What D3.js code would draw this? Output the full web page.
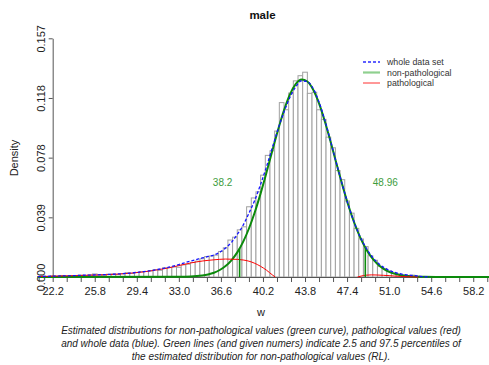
<!DOCTYPE html>
<html><head><meta charset="utf-8">
<script src="https://cdn.jsdelivr.net/npm/d3@7"></script>
<style>
body{margin:0;background:#fff;}
svg{display:block;font-family:"Liberation Sans",Arial,sans-serif;}
</style></head>
<body><svg id="c" width="489" height="365"></svg>
<script>
// ---------- data ----------
const title = "male";
const xLabel = "w";
const yLabel = "Density";
const binWidth = 0.4;
const binLeft = [21.2,21.6,22.0,22.4,22.8,23.2,23.6,24.0,24.4,24.8,
  25.2,25.6,26.0,26.4,26.8,27.2,27.6,28.0,28.4,28.8,
  29.2,29.6,30.0,30.4,30.8,31.2,31.6,32.0,32.4,32.8,
  33.2,33.6,34.0,34.4,34.8,35.2,35.6,36.0,36.4,36.8,
  37.2,37.6,38.0,38.4,38.8,39.2,39.6,40.0,40.4,40.8,
  41.2,41.6,42.0,42.4,42.8,43.2,43.6,44.0,44.4,44.8,
  45.2,45.6,46.0,46.4,46.8,47.2,47.6,48.0,48.4,48.8,
  49.2,49.6,50.0,50.4,50.8,51.2,51.6,52.0,52.4,52.8,
  53.2,53.6];
const binDensity = [0.0005,0.0003,0.0008,0.0005,0.0010,0.0006,0.0008,0.0010,0.0012,0.0008,
  0.0014,0.0020,0.0016,0.0012,0.0018,0.0020,0.0016,0.0022,0.0028,0.0024,
  0.0030,0.0034,0.0036,0.0040,0.0048,0.0044,0.0060,0.0062,0.0066,0.0064,
  0.0080,0.0084,0.0096,0.0104,0.0120,0.0134,0.0138,0.0144,0.0168,0.0192,
  0.0243,0.0262,0.0310,0.0330,0.0462,0.0520,0.0560,0.0670,0.0800,0.0830,
  0.0960,0.1147,0.1100,0.1210,0.1290,0.1324,0.1347,0.1208,0.1215,0.1100,
  0.1037,0.0920,0.0850,0.0700,0.0640,0.0500,0.0420,0.0320,0.0250,0.0200,
  0.0140,0.0110,0.0070,0.0056,0.0040,0.0026,0.0020,0.0014,0.0010,0.0012,
  0.0006,0.0003];

const greenX = [20.5,33,34,35,35.5,36,36.5,37,37.5,38,38.5,39,39.5,40,40.5,41,41.5,42,42.5,43,43.5,44,44.5,45,45.5,46,46.5,47,47.5,48,48.5,49,49.5,50,50.5,51,51.5,52,53,54,55,59.6];
const greenY = [0,0.0001,0.0003,0.0010,0.0017,0.0028,0.0046,0.0072,0.0110,0.0162,0.0231,0.0319,0.0426,0.0550,0.0687,0.0830,0.0970,0.1097,0.1200,0.1269,0.1299,0.1286,0.1232,0.1142,0.1023,0.0887,0.0744,0.0604,0.0474,0.0360,0.0264,0.0188,0.0129,0.0086,0.0055,0.0034,0.0021,0.0012,0.0004,0.0001,0,0];

const redX = [20.5,21,22,23,24,25,26,27,28,29,30,31,32,33,34,35,36,37,38,38.5,39,39.5,40,40.5,41,41.25,44,48.3,48.6,49,49.5,50,50.5,51,51.5,52,52.5,53,53.5];
const redY = [0.0003,0.0003,0.0005,0.0007,0.0009,0.0011,0.0013,0.0016,0.0020,0.0026,0.0034,0.0045,0.0058,0.0075,0.0092,0.0105,0.0113,0.0118,0.0116,0.0112,0.0104,0.0090,0.0070,0.0045,0.0014,0,null,0,0.0006,0.0012,0.0014,0.0013,0.0011,0.0009,0.0006,0.0004,0.0002,0.0001,0];

const blueX = [20.5,21,22,23,24,25,26,27,28,29,30,31,32,33,34,35,35.5,36,36.5,37,37.5,38,38.5,39,39.5,40,40.5,41,41.5,42,42.5,43,43.5,44,44.5,45,45.5,46,46.5,47,47.5,48,48.5,49,49.5,50,50.5,51,51.5,52,52.5,53,53.5,54,54.5];
const blueY = [0.0003,0.0003,0.0005,0.0007,0.0009,0.0012,0.0014,0.0017,0.0021,0.0027,0.0036,0.0047,0.0062,0.0082,0.0105,0.0125,0.0135,0.0145,0.0163,0.0190,0.0228,0.0280,0.0340,0.0420,0.0505,0.0610,0.0725,0.0850,0.0975,0.1085,0.1180,0.1250,0.1290,0.1285,0.1240,0.1150,0.1030,0.0890,0.0745,0.0605,0.0475,0.0362,0.0268,0.0195,0.0138,0.0095,0.0065,0.0044,0.0030,0.0020,0.0014,0.0010,0.0006,0.0002,0];

const refLimits = [38.2, 48.96];
const refLimitDensity = [0.0188, 0.0190];
const refLimitLabels = ["38.2", "48.96"];

const xTickValues = [21.0,22.2,23.4,24.6,25.8,27.0,28.2,29.4,30.6,31.8,33.0,34.2,35.4,36.6,37.8,39.0,40.2,41.4,42.6,43.8,45.0,46.2,47.4,48.6,49.8,51.0,52.2,53.4,54.6,55.8,57.0,58.2,59.4];
const xTickLabels = {"22.2":"22.2","25.8":"25.8","29.4":"29.4","33.0":"33.0","36.6":"36.6","40.2":"40.2","43.8":"43.8","47.4":"47.4","51.0":"51.0","54.6":"54.6","58.2":"58.2"};
const yTickValues = [0, 0.03925, 0.0785, 0.11775, 0.157];
const yTickLabels = ["0.000","0.039","0.078","0.118","0.157"];

const legendLabels = ["whole data set","non-pathological","pathological"];
const captionLines = [
  "Estimated distributions for non-pathological values (green curve), pathological values (red)",
  "and whole data (blue). Green lines (and given numers) indicate 2.5 and 97.5 percentiles of",
  "the estimated distribution for non-pathological values (RL)."
];

// ---------- drawing ----------
const svg = d3.select("#c");
const x = d3.scaleLinear().domain([20.9, 59.6]).range([37.5, 489.6]);
const y = d3.scaleLinear().domain([0, 0.157]).range([277, 38.3]);
const GREEN = "#0b8a0b";

svg.append("defs").append("clipPath").attr("id","clip")
  .append("rect").attr("x",x(20.9)).attr("y",0).attr("width",489-x(20.9)).attr("height",y(0)+2);

// histogram
svg.append("g").selectAll("rect").data(binLeft).join("rect")
  .attr("x", d => x(d))
  .attr("width", d => x(d + binWidth) - x(d))
  .attr("y", (d,i) => y(binDensity[i]))
  .attr("height", (d,i) => y(0) - y(binDensity[i]))
  .attr("fill","#fff").attr("stroke","#a0a0a0").attr("stroke-width",1);

// axes
const xAxis = d3.axisBottom(x).tickValues(xTickValues)
  .tickFormat(d => xTickLabels[d.toFixed(1)] || "")
  .tickSize(5).tickSizeOuter(0);
const gx = svg.append("g").attr("transform",`translate(0,${y(0)})`).call(xAxis);
gx.select(".domain").attr("d", `M${x(21.0)},0.5H${x(59.4)}`).attr("stroke","#555");
gx.selectAll(".tick line").attr("stroke","#555");
gx.selectAll(".tick text").attr("font-size","11px").attr("fill","#222").attr("dy",null).attr("y",18);

const yAxis = d3.axisLeft(y).tickValues(yTickValues)
  .tickFormat((d,i) => yTickLabels[i]).tickSize(4).tickSizeOuter(0);
const gy = svg.append("g").attr("transform",`translate(${x(22.2)},0)`).call(yAxis);
gy.select(".domain").attr("stroke","#555");
gy.selectAll(".tick line").attr("stroke","#555");
gy.selectAll(".tick text").attr("font-size","11px").attr("fill","#222")
  .attr("x",null).attr("dy",null)
  .attr("text-anchor","middle")
  .attr("transform","translate(-8,0) rotate(-90)");

// curves
const lineGen = (xs, ys) => d3.line()
  .defined((d,i) => ys[i] !== null)
  .x((d,i) => x(xs[i])).y((d,i) => y(ys[i]))
  .curve(d3.curveMonotoneX)(xs);

const plot = svg.append("g").attr("clip-path","url(#clip)");
plot.append("path").attr("d", lineGen(greenX, greenY))
  .attr("fill","none").attr("stroke",GREEN).attr("stroke-width",2);
plot.append("path").attr("d", lineGen(redX, redY))
  .attr("fill","none").attr("stroke","#ff0000").attr("stroke-width",1);
plot.append("path").attr("d", lineGen(blueX, blueY))
  .attr("fill","none").attr("stroke","#1414ff").attr("stroke-width",1.3)
  .attr("stroke-dasharray","3,2");

// reference limits
svg.append("g").selectAll("line").data(refLimits).join("line")
  .attr("x1", d => x(d)).attr("x2", d => x(d))
  .attr("y1", y(0)).attr("y2", (d,i) => y(refLimitDensity[i]))
  .attr("stroke",GREEN).attr("stroke-width",1.6);
svg.append("g").selectAll("text").data(refLimits).join("text")
  .attr("x", (d,i) => x(d) + (i === 0 ? -17 : 20))
  .attr("y", 185.5)
  .attr("text-anchor","middle").attr("font-size","10px").attr("fill","#3c9c3c")
  .text((d,i) => refLimitLabels[i]);

// legend
const legColors = ["#2a2aff","#8fd08f","#ff3030"];
const legWidths = [1.3, 2.2, 1];
const leg = svg.append("g");
legendLabels.forEach((t,i) => {
  const ly = 62 + i*10.5;
  leg.append("line").attr("x1",363).attr("x2",380).attr("y1",ly).attr("y2",ly)
    .attr("stroke",legColors[i]).attr("stroke-width",legWidths[i])
    .attr("stroke-dasharray", i === 0 ? "3,2" : null);
  leg.append("text").attr("x",387).attr("y",ly+3).attr("font-size","8.8px").attr("fill","#333").text(t);
});

// titles
svg.append("text").attr("x",262.5).attr("y",19).attr("text-anchor","middle")
  .attr("font-size","11.5px").attr("font-weight","bold").attr("fill","#111").text(title);
svg.append("text").attr("x",261).attr("y",316).attr("text-anchor","middle")
  .attr("font-size","11px").attr("fill","#222").text(xLabel);
svg.append("text").attr("transform","translate(18,158) rotate(-90)").attr("text-anchor","middle")
  .attr("font-size","11px").attr("fill","#222").text(yLabel);
captionLines.forEach((t,i) => {
  svg.append("text").attr("x",261).attr("y",334 + i*13).attr("text-anchor","middle")
    .attr("font-size","10px").attr("font-style","italic").attr("fill","#222").text(t);
});
</script></body></html>
